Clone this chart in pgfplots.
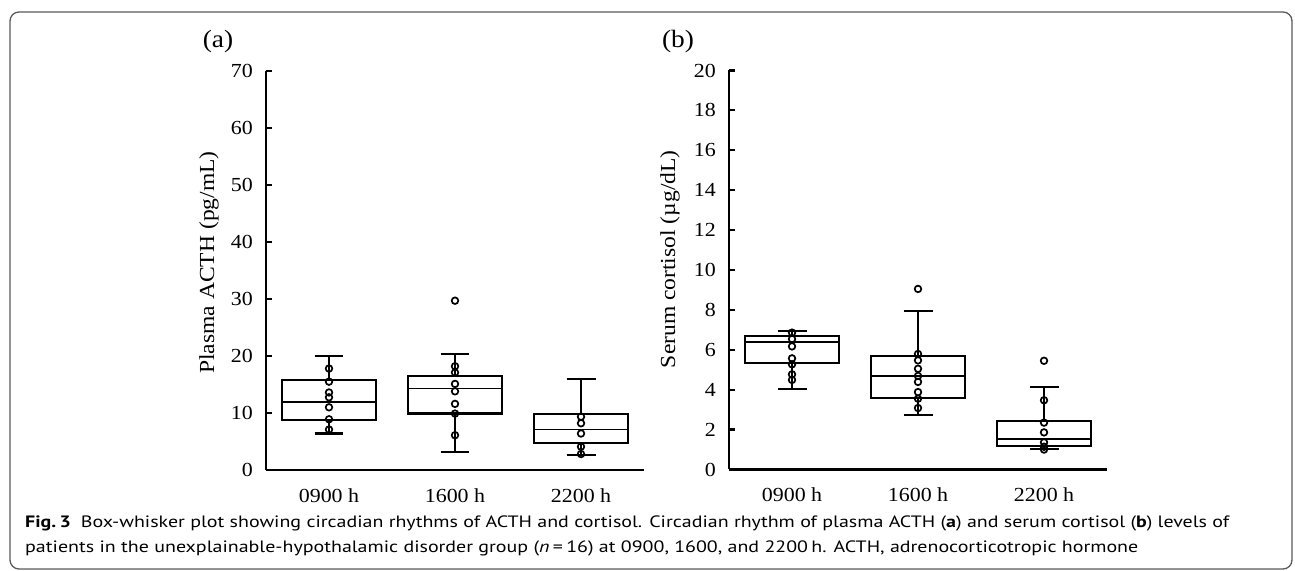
\documentclass[border=0pt]{standalone}
\usepackage{fontspec}
\setmainfont[FakeStretch=1.1]{Liberation Serif}
\newfontfamily\capfont{PT Sans}
\usepackage{graphicx}
\usepackage{pgfplots}
\pgfplotsset{compat=1.18}
\usepgfplotslibrary{statistics}
\newsavebox\capA
\newsavebox\capB

\pgfplotsset{
  panel/.style={
    scale only axis, width=378bp, height=399bp,
    xmin=0.5, xmax=3.5, ymin=0,
    xtick={1,2,3}, xticklabels={0900 h,1600 h,2200 h},
    axis x line*=bottom, axis y line*=left,
    axis line style={line width=2.6bp, -},
    tick align=inside, major tick length=6bp,
    ytick style={line width=2.2bp, black},
    xtick style={draw=none},
    ticklabel style={font=\fontsize{20}{24}\selectfont, inner sep=0pt},
    yticklabel shift=13bp, xticklabel shift=18bp,
    /pgf/number format/assume math mode=true,
    label style={font=\fontsize{21.5}{25}\selectfont},
    boxplot/draw direction=y,
    clip=false,
  },
  bx/.style={black, solid, line width=2.2bp, mark=none,
    boxplot/every median/.style={line width=1.9bp}},
  dots/.style={black, only marks, mark=o, mark size=3.3bp,
    mark options={line width=1.7bp, solid}},
}

\begin{document}%
\sbox\capA{\capfont\fontsize{16.5}{20}\selectfont
  \textbf{Fig.\,3}\enspace Box-whisker plot showing circadian rhythms of ACTH and cortisol. Circadian rhythm of plasma ACTH (\textbf{a}) and serum cortisol (\textbf{b}) levels of}%
\sbox\capB{\capfont\fontsize{16.5}{20}\selectfont
  patients in the unexplainable-hypothalamic disorder group (\textit{n}\,=\,16) at 0900, 1600, and 2200\,h. ACTH, adrenocorticotropic hormone}%
\pgfmathsetmacro\capsc{1208.5/\the\wd\capA}%
\begin{tikzpicture}[x=1bp,y=1bp]
\useasboundingbox (0,0) rectangle (1295,571);
\draw[line width=1.3bp, black!65, rounded corners=9bp] (10,2) rectangle (1292,559);

\node[font=\fontsize{25}{30}\selectfont] at (218,529) {(a)};
\node[font=\fontsize{25}{30}\selectfont] at (678,529) {(b)};

% Panel (a)
\begin{axis}[panel, at={(266bp,101bp)}, anchor=south west,
  ymax=70, ytick={0,10,...,70},
  ylabel={Plasma ACTH (pg/mL)},
  ylabel style={at={(axis description cs:-0.151,0.52)}, anchor=center}]
\addplot[bx, boxplot prepared={median=12.0, upper quartile=15.8, lower quartile=8.8,
  upper whisker=20.0, lower whisker=6.4, draw position=1, box extend=0.75, whisker extend=0.23}] coordinates {};
\addplot[bx, boxplot prepared={median=14.3, upper quartile=16.5, lower quartile=9.9,
  upper whisker=20.4, lower whisker=3.1, draw position=2, box extend=0.75, whisker extend=0.23}] coordinates {};
\addplot[bx, boxplot prepared={median=7.1, upper quartile=9.8, lower quartile=4.7,
  upper whisker=16.0, lower whisker=2.6, draw position=3, box extend=0.75, whisker extend=0.23}] coordinates {};
\addplot[dots] coordinates {
  (1,17.8) (1,15.5) (1,13.6) (1,12.75) (1,11.0) (1,8.9) (1,7.1)
  (2,29.7) (2,18.2) (2,17.1) (2,15.1) (2,13.8) (2,11.6) (2,9.9) (2,6.1)
  (3,9.35) (3,8.2) (3,6.4) (3,4.1) (3,2.8)
};
\end{axis}

% Panel (b)
\begin{axis}[panel, at={(729bp,101.5bp)}, anchor=south west,
  ymax=20, ytick={0,2,...,20},
  ylabel={Serum cortisol (\textmu g/dL)},
  ylabel style={at={(axis description cs:-0.156,0.527)}, anchor=center}]
\addplot[bx, boxplot prepared={median=6.38, upper quartile=6.7, lower quartile=5.33,
  upper whisker=6.93, lower whisker=4.02, draw position=1, box extend=0.75, whisker extend=0.23}] coordinates {};
\addplot[bx, boxplot prepared={median=4.7, upper quartile=5.69, lower quartile=3.6,
  upper whisker=7.95, lower whisker=2.75, draw position=2, box extend=0.75, whisker extend=0.23}] coordinates {};
\addplot[bx, boxplot prepared={median=1.51, upper quartile=2.43, lower quartile=1.19,
  upper whisker=4.15, lower whisker=1.04, draw position=3, box extend=0.75, whisker extend=0.23}] coordinates {};
\addplot[dots] coordinates {
  (1,6.86) (1,6.54) (1,6.17) (1,5.57) (1,5.27) (1,4.77) (1,4.49)
  (2,9.05) (2,5.79) (2,5.47) (2,5.05) (2,4.69) (2,4.39) (2,3.88) (2,3.55) (2,3.08)
  (3,5.45) (3,3.47) (3,2.35) (3,1.86) (3,1.36) (3,1.14) (3,1.0)
};
\end{axis}

\node[anchor=base west, inner sep=0pt] at (25,43) {\scalebox{\capsc}[1]{\usebox\capA}};
\node[anchor=base west, inner sep=0pt] at (25,18) {\scalebox{\capsc}[1]{\usebox\capB}};
\end{tikzpicture}%
\end{document}
